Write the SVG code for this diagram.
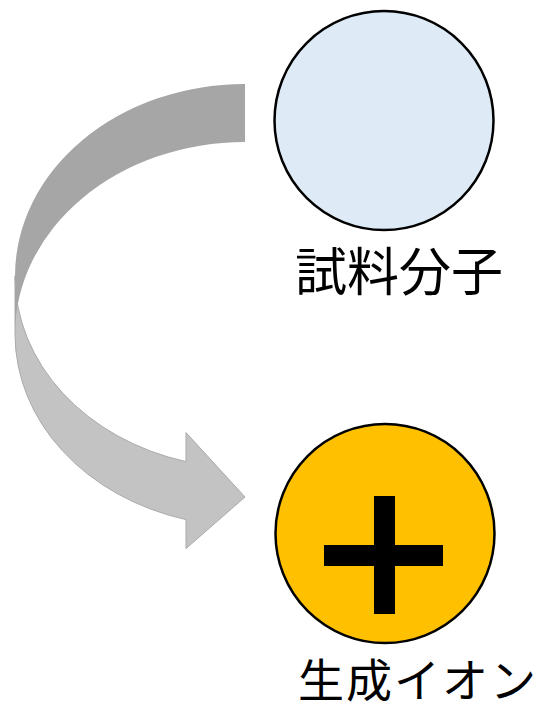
<svg xmlns="http://www.w3.org/2000/svg" width="541" height="710" viewBox="0 0 541 710">
<style>
.lbl{font-family:"Noto Sans CJK JP","Noto Sans CJK SC",sans-serif;fill:#000}
.node{stroke:#000;stroke-width:2.5}
</style>
<rect width="541" height="710" fill="#fff"/>
<g id="connectors">
<path d="M15,276 A230,192 0 0 0 186,461.6 L186,432.6 L245,497 L186,548.6 L186,519.6 A230,192 0 0 1 15,334 Z" fill="#C3C3C3" stroke="#AAAAAA" stroke-width="1"/>
<path d="M245,84 A230,192 0 0 0 15,276 L15,334 A230,192 0 0 1 245,142 Z" fill="#A6A6A6"/>
</g>
<g id="sample">
<circle class="node" cx="384" cy="120.5" r="109.5" fill="#DEEBF7"/>
<text class="lbl" x="295" y="291" font-size="52">試料分子</text>
</g>
<g id="ion">
<circle class="node" cx="385" cy="533.5" r="109.5" fill="#FFC000"/>
<rect x="374" y="496" width="21" height="118" fill="#000"/>
<rect x="324" y="545" width="119" height="21" fill="#000"/>
<text class="lbl" x="298" y="696.5" font-size="46" letter-spacing="2">生成イオン</text>
</g>
</svg>
